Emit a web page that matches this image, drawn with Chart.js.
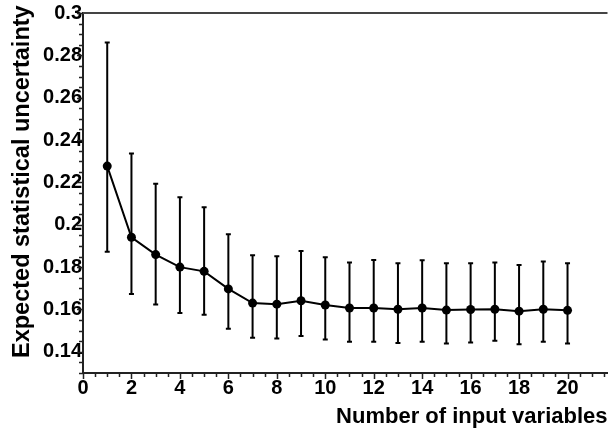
<!DOCTYPE html>
<html>
<head>
<meta charset="utf-8">
<script src="https://cdn.jsdelivr.net/npm/chart.js@4.4.1/dist/chart.umd.min.js"></script>
<style>
    html, body { margin: 0; padding: 0; background: #ffffff; }
    #wrap { width: 612px; height: 428px; position: relative; }
</style>
</head>
<body>
<div id="wrap"><canvas id="uncChart"></canvas></div>
<script>
const nVars = [1, 2, 3, 4, 5, 6, 7, 8, 9, 10, 11, 12, 13, 14, 15, 16, 17, 18, 19, 20];
const uncertainty = [0.2277, 0.1941, 0.1859, 0.1800, 0.1780, 0.1697, 0.1630, 0.1625, 0.1641, 0.1621,
                     0.1607, 0.1607, 0.1601, 0.1607, 0.1597, 0.1600, 0.1601, 0.1592, 0.1601, 0.1596];
const errHigh = [0.2861, 0.2336, 0.2194, 0.2130, 0.2083, 0.1955, 0.1856, 0.1851, 0.1876, 0.1847,
                 0.1822, 0.1834, 0.1818, 0.1832, 0.1818, 0.1818, 0.1822, 0.1810, 0.1827, 0.1818];
const errLow = [0.1873, 0.1673, 0.1624, 0.1583, 0.1575, 0.1509, 0.1466, 0.1463, 0.1475, 0.1458,
                0.1447, 0.1447, 0.1442, 0.1447, 0.1439, 0.1444, 0.1452, 0.1436, 0.1447, 0.1439];
const xTicks = [0, 2, 4, 6, 8, 10, 12, 14, 16, 18, 20];
const yTicks = [0.14, 0.16, 0.18, 0.2, 0.22, 0.24, 0.26, 0.28, 0.3];
const yTitle = "Expected statistical uncertainty";

const FONT = "'Liberation Sans', Arial, Helvetica, sans-serif";

// error bars, minor ticks, top frame line and the y title
const extrasPlugin = {
    id: "extras",
    afterDatasetsDraw(chart) {
        const ctx = chart.ctx;
        const xs = chart.scales.x;
        const ys = chart.scales.y;
        ctx.save();
        ctx.strokeStyle = "#000";
        ctx.lineWidth = 2;
        for (let i = 0; i < nVars.length; i++) {
            const px = xs.getPixelForValue(nVars[i]);
            const top = ys.getPixelForValue(errHigh[i]);
            const bot = ys.getPixelForValue(errLow[i]);
            ctx.beginPath();
            ctx.moveTo(px, top);
            ctx.lineTo(px, bot);
            ctx.moveTo(px - 2.5, top);
            ctx.lineTo(px + 2.5, top);
            ctx.moveTo(px - 2.5, bot);
            ctx.lineTo(px + 2.5, bot);
            ctx.stroke();
        }
        ctx.restore();
    },
    afterDraw(chart) {
        const ctx = chart.ctx;
        const area = chart.chartArea;
        const xs = chart.scales.x;
        const ys = chart.scales.y;
        ctx.save();
        ctx.strokeStyle = "#222";
        ctx.lineWidth = 1.5;
        ctx.beginPath();
        // x ticks every 0.5, major every 2
        for (let k = 0; k * 0.5 <= xs.max; k++) {
            const px = Math.round(xs.getPixelForValue(k * 0.5)) + 0.5;
            const len = (k % 4 === 0) ? 6 : 4;
            ctx.moveTo(px, area.bottom);
            ctx.lineTo(px, area.bottom + len);
        }
        // y ticks every 0.005, major every 0.02
        for (let k = 26; k <= 60; k++) {
            const py = Math.round(ys.getPixelForValue(k * 0.005)) + 0.5;
            const len = (k % 4 === 0) ? 6 : 4;
            ctx.moveTo(area.left, py);
            ctx.lineTo(area.left - len, py);
        }
        ctx.stroke();
        ctx.strokeStyle = "#444";
        ctx.lineWidth = 2;
        ctx.beginPath();
        ctx.moveTo(area.left, area.top);
        ctx.lineTo(area.right, area.top);
        ctx.stroke();

        ctx.translate(23, 358);
        ctx.rotate(-Math.PI / 2);
        ctx.fillStyle = "#000";
        ctx.font = "bold 23.5px " + FONT;
        ctx.textAlign = "left";
        ctx.textBaseline = "middle";
        ctx.fillText(yTitle, 0, 0);
        ctx.restore();
    }
};

new Chart(document.getElementById("uncChart"), {
    type: "line",
    data: {
        datasets: [{
            data: nVars.map((n, i) => ({ x: n, y: uncertainty[i] })),
            borderColor: "#000",
            backgroundColor: "#000",
            borderWidth: 2,
            pointRadius: 4.5,
            pointBackgroundColor: "#000",
            pointBorderWidth: 0,
            tension: 0
        }]
    },
    options: {
        responsive: true,
        maintainAspectRatio: false,
        animation: false,
        layout: {
            padding: { top: 13, right: 0, bottom: 0, left: 0 }
        },
        plugins: {
            legend: { display: false },
            tooltip: { enabled: false }
        },
        scales: {
            x: {
                type: "linear",
                min: 0,
                max: 21.65,
                afterBuildTicks: scale => { scale.ticks = xTicks.map(v => ({ value: v })); },
                afterFit: scale => { scale.height = 55; },
                grid: { display: false, drawTicks: false },
                border: { display: true, color: "#222", width: 2 },
                ticks: {
                    padding: 3,
                    color: "#000",
                    maxRotation: 0,
                    autoSkip: false,
                    font: { family: FONT, size: 20, weight: "bold" }
                },
                title: {
                    display: true,
                    text: "Number of input variables",
                    align: "end",
                    color: "#000",
                    padding: { top: 0, bottom: -2 },
                    font: { family: FONT, size: 22, weight: "bold" }
                }
            },
            y: {
                min: 0.13,
                max: 0.3,
                afterBuildTicks: scale => { scale.ticks = yTicks.map(v => ({ value: v })); },
                afterFit: scale => { scale.width = 83; },
                grid: { display: false, drawTicks: false },
                border: { display: true, color: "#222", width: 2 },
                ticks: {
                    padding: 1,
                    color: "#000",
                    autoSkip: false,
                    callback: v => String(parseFloat(v.toFixed(2))),
                    font: { family: FONT, size: 20, weight: "bold" }
                },
                title: { display: false }
            }
        }
    },
    plugins: [extrasPlugin]
});
</script>
</body>
</html>
